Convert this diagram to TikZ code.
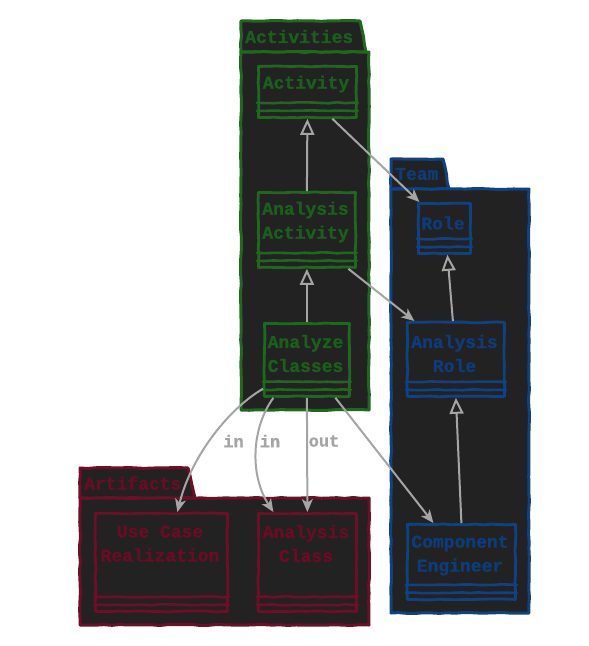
\documentclass[tikz,border=0pt]{standalone}
\usepackage{fontspec}
\newfontfamily\sketchmono{Liberation Mono}[BoldFeatures={FakeBold=1.2}]
\usetikzlibrary{arrows.meta,decorations.pathmorphing}

\definecolor{pkgfill}{RGB}{34,34,34}
\definecolor{grnline}{RGB}{30,105,30}
\definecolor{grntext}{RGB}{26,96,26}
\definecolor{bluline}{RGB}{14,66,132}
\definecolor{blutext}{RGB}{12,60,122}
\definecolor{redline}{RGB}{112,14,40}
\definecolor{redtext}{RGB}{106,12,36}
\definecolor{edgegray}{RGB}{165,165,165}

\newcommand\skfont{\sketchmono\bfseries\fontsize{18}{24}\selectfont}

\tikzset{
  sketch/.style={decorate, decoration={random steps, segment length=8pt, amplitude=0.5pt}},
  pkgshape/.style={draw=#1, fill=pkgfill, line width=3pt, line join=round, line cap=round, sketch},
  classbox/.style={draw=#1, fill=pkgfill, line width=2.8pt, inner sep=0pt, anchor=north west, line join=round, line cap=round, sketch},
  compline/.style={draw=#1, line width=2.6pt, line cap=round, sketch},
  nametext/.style={font=\skfont, text=#1, align=center, inner sep=0pt},
  edgelbl/.style={font=\sketchmono\bfseries\fontsize{17}{20}\selectfont, text=edgegray, inner sep=0pt},
  gen/.style={draw=edgegray, line width=2pt, -{Triangle[open, length=16pt, width=14pt, line width=2pt]}},
  dep/.style={draw=edgegray, line width=2pt, -{Stealth[length=13pt, width=11pt, inset=3.5pt]}},
}

% package: tab corners and body corners, colour, title
\newcommand\umlpkg[9]{%
  \path[pkgshape=#7] (#1,#2) -- (#3,#2) -- (#4,#5) -- (#1,#5) -- cycle;
  \path[pkgshape=#7] (#1,#5) rectangle (#6,#8);
  \node[nametext=#9, anchor=west] at ([xshift=4pt]#1,{(#2+#5)/2}) {\pkgtitle};
}

% class: id, top-left corner, width, height, colours, name position, name
\newcommand\umlclass[9]{%
  \node[classbox=#5, minimum width=#3pt, minimum height=#4pt] (#1) at (#2) {};
  \path[compline=#5] ([yshift=16pt]#1.south west) -- ([yshift=16pt]#1.south east);
  \path[compline=#5] ([yshift=8pt]#1.south west) -- ([yshift=8pt]#1.south east);
  \node[nametext=#6] (#1-name) at (#7) {#8};
}

\begin{document}
\begin{tikzpicture}[x=1pt, y=-1pt]
\pgfmathsetseed{7}
\useasboundingbox[fill=white] (0,0) rectangle (589,646);

% packages
\def\pkgtitle{Activities}
\umlpkg{241}{21}{360}{366}{52}{369}{grnline}{410}{grntext}
\def\pkgtitle{Team}
\umlpkg{391}{159}{443}{449}{189}{529}{bluline}{613}{blutext}
\def\pkgtitle{Artifacts}
\umlpkg{80}{468}{188}{195}{498}{369}{redline}{625}{redtext}

% classes
\umlclass{act}{257,65}{98}{51}{grnline}{grntext}{306,84}{Activity}{}
\umlclass{aa}{257,191}{97}{75}{grnline}{grntext}{305.5,222}{Analysis\\Activity}{}
\umlclass{anc}{263,322}{85}{73}{grnline}{grntext}{305.5,353.5}{Analyze\\Classes}{}
\umlclass{role}{417,202}{52}{50}{bluline}{blutext}{443,223}{Role}{}
\umlclass{arole}{406,321}{97}{74}{bluline}{blutext}{454.5,353.5}{Analysis\\Role}{}
\umlclass{ce}{406,523}{108}{75}{bluline}{blutext}{460,555.5}{Component\\Engineer}{}
\umlclass{ucr}{94,512}{132}{98}{redline}{redtext}{160,543.5}{Use Case\\Realization}{}
\umlclass{acls}{257,512}{98}{98}{redline}{redtext}{306,543.5}{Analysis\\Class}{}

% generalizations
\draw[gen] (aa.north) -- (act.south);
\draw[gen] (anc.north) -- (aa.south);
\draw[gen] ([xshift=-3pt]arole.north) -- ([xshift=3pt]role.south);
\draw[gen] (ce.north) -- (arole.south);

% dependencies
\draw[dep] ([xshift=25pt]act.south) -- ([xshift=-25pt]role.north);
\draw[dep] ([xshift=41.5pt]aa.south) -- ([xshift=-41.5pt]arole.north);
\draw[dep] ([xshift=28.5pt]anc.south) -- ([xshift=-28pt]ce.north);
\draw[dep] ([yshift=9pt]anc.south west) .. controls +(-33,19) and +(14,-57) .. ([xshift=16pt]ucr.north);
\draw[dep] ([xshift=-33.5pt]anc.south) .. controls +(-22,30) and +(-24,-37) .. ([xshift=-34pt]acls.north);
\draw[dep] (anc.south) -- (acls.north);

% edge labels
\node[edgelbl] (lin1) at (233.5,441) {in};
\node[edgelbl] (lin2) at (270,441) {in};
\node[edgelbl] (lout) at (324,441) {out};
\end{tikzpicture}
\end{document}
